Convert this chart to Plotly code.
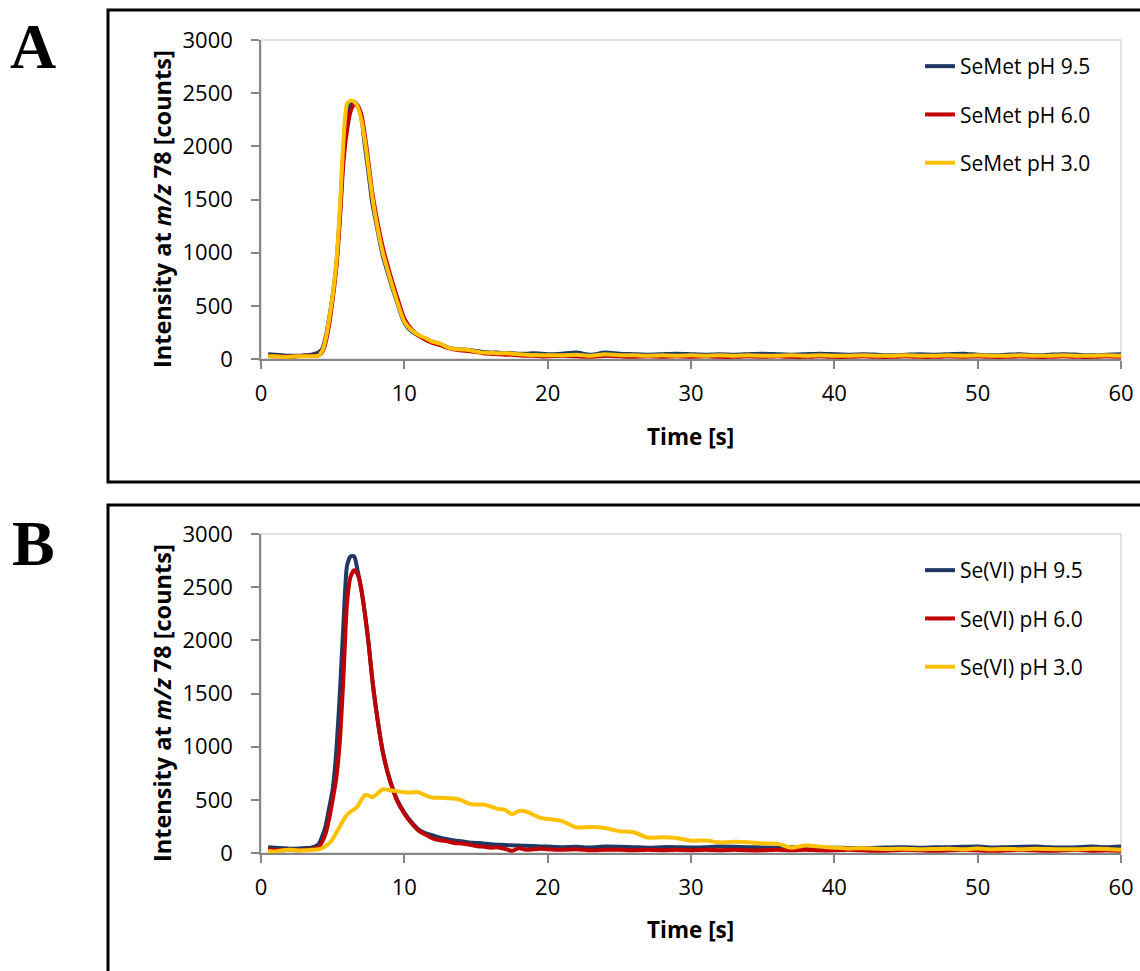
import plotly.graph_objects as go

# ---------------- data ----------------
time_s = [0.5, 1, 1.5, 2, 2.5, 3, 3.5, 4,
          4.25, 4.5, 4.75, 5, 5.25, 5.5, 5.75, 6, 6.25, 6.5, 6.75, 7, 7.25, 7.5, 7.75, 8,
          8.5, 9, 9.5, 10, 10.5, 11, 11.5, 12, 12.5, 13, 13.5, 14, 14.5, 15, 15.5, 16,
          16.5, 17, 17.5, 18, 18.5, 19, 19.5, 20,
          21, 22, 23, 24, 25, 26, 27, 28, 29, 30, 31, 32, 33, 34, 35, 36, 37, 38, 39, 40,
          41, 42, 43, 44, 45, 46, 47, 48, 49, 50, 51, 52, 53, 54, 55, 56, 57, 58, 59, 60]

semet_ph95 = [45, 40, 35, 30, 30, 35, 40, 60,
              90, 200, 380, 600, 880, 1350, 1950, 2300, 2400, 2420, 2380, 2270, 2000, 1750, 1480, 1300,
              970, 740, 530, 340, 260, 220, 190, 160, 140, 110, 95, 90, 85, 75, 65, 60,
              60, 55, 55, 50, 50, 55, 50, 45,
              50, 60, 40, 60, 50, 45, 40, 45, 50, 45, 40, 45, 40, 45, 50, 45, 40, 45, 50, 45,
              40, 45, 40, 35, 40, 45, 40, 45, 50, 40, 35, 40, 45, 35, 40, 45, 40, 35, 40, 45]

semet_ph60 = [30, 25, 25, 20, 25, 30, 30, 35,
              60, 150, 320, 560, 850, 1300, 1850, 2150, 2330, 2390, 2380, 2300, 2100, 1850, 1580, 1380,
              1050, 800, 580, 380, 280, 220, 180, 150, 130, 105, 90, 80, 75, 65, 55, 50,
              45, 40, 40, 35, 30, 30, 25, 25,
              30, 25, 20, 30, 25, 20, 25, 20, 25, 20, 25, 20, 20, 25, 20, 25, 20, 20, 25, 20,
              20, 25, 20, 20, 25, 20, 20, 25, 20, 25, 20, 20, 25, 20, 20, 25, 20, 20, 25, 20]

semet_ph30 = [25, 25, 20, 20, 25, 25, 25, 30,
              70, 180, 370, 600, 900, 1400, 2050, 2400, 2430, 2420, 2370, 2250, 2050, 1800, 1540, 1330,
              1000, 760, 540, 350, 270, 225, 195, 160, 145, 110, 95, 90, 85, 70, 60, 58,
              55, 55, 50, 45, 40, 38, 35, 35,
              35, 40, 30, 45, 35, 35, 30, 35, 30, 35, 30, 35, 30, 35, 30, 30, 35, 30, 35, 30,
              30, 35, 30, 30, 35, 30, 30, 35, 30, 35, 30, 30, 35, 30, 30, 35, 30, 30, 35, 30]

sevi_ph95 = [55, 50, 45, 40, 40, 45, 50, 80,
             150, 250, 420, 600, 950, 1500, 2150, 2700, 2790, 2790, 2650, 2480, 2250, 1980, 1650, 1380,
             950, 680, 500, 380, 290, 220, 185, 165, 145, 130, 118, 110, 100, 95, 90, 82,
             78, 75, 72, 70, 68, 65, 62, 60,
             55, 58, 52, 60, 58, 55, 50, 55, 55, 52, 55, 60, 58, 55, 52, 50, 55, 52, 50, 50,
             48, 45, 50, 52, 55, 50, 55, 55, 58, 60, 52, 55, 58, 60, 55, 52, 55, 60, 55, 62]

sevi_ph60 = [35, 30, 25, 30, 25, 30, 35, 50,
             100, 180, 320, 500, 700, 1050, 1650, 2350, 2600, 2660, 2620, 2480, 2250, 1980, 1650, 1380,
             950, 680, 490, 370, 280, 210, 170, 135, 120, 110, 95, 90, 80, 65, 60, 50,
             55, 40, 20, 45, 30, 35, 40, 35,
             30, 35, 25, 30, 30, 25, 30, 25, 30, 25, 30, 25, 30, 25, 25, 30, 25, 30, 25, 25,
             30, 25, 20, 25, 30, 25, 20, 25, 30, 25, 20, 25, 30, 25, 20, 25, 30, 20, 25, 20]

sevi_ph30 = [20, 15, 25, 30, 25, 25, 30, 35,
             45, 65, 90, 130, 190, 250, 310, 360, 390, 410, 440, 500, 545, 540, 525, 545,
             600, 590, 580, 570, 570, 572, 540, 520, 520, 515, 512, 495, 465, 455, 455, 440,
             415, 408, 365, 395, 390, 360, 330, 320,
             300, 240, 245, 235, 205, 195, 145, 148, 140, 115, 118, 100, 105, 102, 90, 88, 50, 70, 60, 50,
             42, 45, 40, 38, 40, 35, 38, 40, 35, 42, 35, 38, 35, 40, 38, 35, 35, 40, 38, 30]

x_ticks = [0, 10, 20, 30, 40, 50, 60]
y_ticks = [0, 500, 1000, 1500, 2000, 2500, 3000]

labels_a = ["SeMet pH 9.5", "SeMet pH 6.0", "SeMet pH 3.0"]
labels_b = ["Se(VI) pH 9.5", "Se(VI) pH 6.0", "Se(VI) pH 3.0"]
colors = ["#1F3864", "#C00000", "#FFC000"]

# ---------------- figure ----------------
W, H = 1140, 971
fig = go.Figure()

for i, (lab, ys) in enumerate(zip(labels_a, [semet_ph95, semet_ph60, semet_ph30])):
    fig.add_trace(go.Scatter(x=time_s, y=ys, mode="lines", name=lab,
                             line=dict(color=colors[i], width=4, shape="spline", smoothing=0.6),
                             xaxis="x", yaxis="y", legend="legend", legendgroup="a%d" % i))
for i, (lab, ys) in enumerate(zip(labels_b, [sevi_ph95, sevi_ph60, sevi_ph30])):
    fig.add_trace(go.Scatter(x=time_s, y=ys, mode="lines", name=lab,
                             line=dict(color=colors[i], width=4, shape="spline", smoothing=0.6),
                             xaxis="x2", yaxis="y2", legend="legend2", legendgroup="b%d" % i))

def px_x(p):
    return p / W

def px_y(p):
    return 1 - p / H

xdom = [px_x(261), px_x(1121)]
ax_common = dict(showgrid=False, zeroline=False, showline=True, linecolor="#868686", linewidth=1.5,
                 ticks="outside", ticklen=8, tickcolor="#868686", tickwidth=1.5, automargin=False,
                 tickfont=dict(family="Open Sans", size=22, color="black"))

fig.update_layout(
    template="none",
    width=W, height=H, margin=dict(l=0, r=0, t=0, b=0, pad=0), autosize=False,
    paper_bgcolor="white", plot_bgcolor="white",
    font=dict(family="Open Sans", color="black"),
    xaxis=dict(domain=xdom, range=[0, 60], tickvals=x_ticks, anchor="y", ticklabelstandoff=6, **ax_common),
    yaxis=dict(domain=[px_y(359), px_y(40)], range=[0, 3000], tickvals=y_ticks, anchor="x",
               ticklabelstandoff=14, **ax_common),
    xaxis2=dict(domain=xdom, range=[0, 60], tickvals=x_ticks, anchor="y2", ticklabelstandoff=6, **ax_common),
    yaxis2=dict(domain=[px_y(853), px_y(534)], range=[0, 3000], tickvals=y_ticks, anchor="x2",
                ticklabelstandoff=14, **ax_common),
    legend=dict(x=px_x(920), y=px_y(46), xanchor="left", yanchor="top", tracegroupgap=18,
                font=dict(family="Open Sans", size=21, color="black"), bgcolor="rgba(0,0,0,0)"),
    legend2=dict(x=px_x(920), y=px_y(550), xanchor="left", yanchor="top", tracegroupgap=18,
                 font=dict(family="Open Sans", size=21, color="black"), bgcolor="rgba(0,0,0,0)"),
    showlegend=True,
)

shapes = []
# plot-area borders (light gray)
for xr, yr in [("x", "y"), ("x2", "y2")]:
    shapes.append(dict(type="rect", xref=xr + " domain", yref=yr + " domain", x0=0, x1=1, y0=0, y1=1,
                       line=dict(color="#D9D9D9", width=1.5), layer="below"))
# outer panel frames
shapes.append(dict(type="rect", xref="paper", yref="paper", x0=px_x(108), x1=px_x(1150),
                   y0=px_y(482), y1=px_y(10), line=dict(color="black", width=3)))
shapes.append(dict(type="rect", xref="paper", yref="paper", x0=px_x(108), x1=px_x(1150),
                   y0=px_y(990), y1=px_y(505), line=dict(color="black", width=3)))
fig.update_layout(shapes=shapes)

ytitle = "<b>Intensity at <i>m/z</i> 78 [counts]</b>"
ann_common = dict(xref="paper", yref="paper", showarrow=False, xanchor="center", yanchor="middle")
annotations = [
    dict(text="<b>A</b>", x=px_x(33), y=px_y(46),
         font=dict(family="Liberation Serif", size=64, color="black"), **ann_common),
    dict(text="<b>B</b>", x=px_x(33), y=px_y(543),
         font=dict(family="Liberation Serif", size=64, color="black"), **ann_common),
    dict(text=ytitle, x=px_x(162), y=px_y(209), textangle=-90,
         font=dict(family="Open Sans", size=23.5, color="black"), **ann_common),
    dict(text=ytitle, x=px_x(162), y=px_y(703), textangle=-90,
         font=dict(family="Open Sans", size=23.5, color="black"), **ann_common),
    dict(text="<b>Time [s]</b>", x=px_x(690), y=px_y(436),
         font=dict(family="Open Sans", size=22.5, color="black"), **ann_common),
    dict(text="<b>Time [s]</b>", x=px_x(690), y=px_y(929),
         font=dict(family="Open Sans", size=22.5, color="black"), **ann_common),
]
fig.update_layout(annotations=annotations)

fig.write_html("out.html")
